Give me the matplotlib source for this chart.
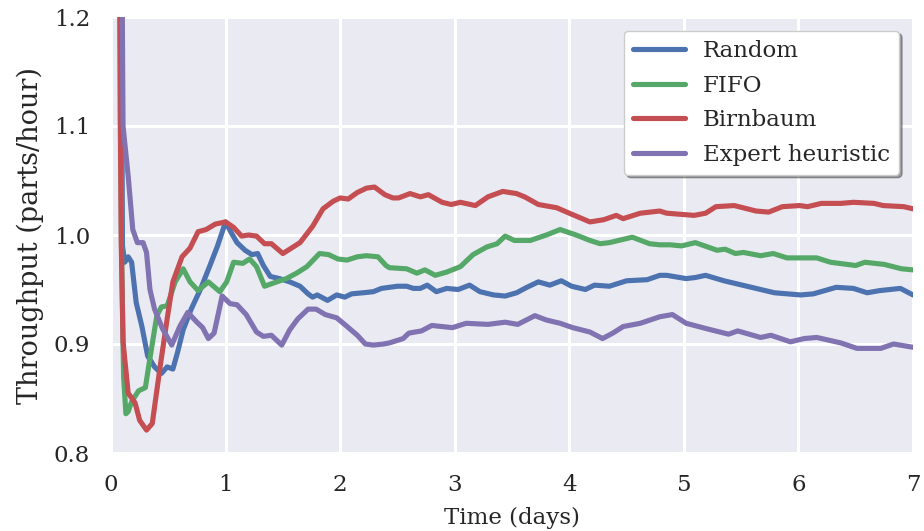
import numpy as np
import matplotlib
matplotlib.use("Agg")
import matplotlib.pyplot as plt
import seaborn as sns

# ---------------- data ----------------
random_x = [0.075, 0.10, 0.12, 0.15, 0.18, 0.22, 0.27, 0.32, 0.38, 0.44, 0.49, 0.54, 0.58, 0.63, 0.70,
            0.78, 0.86, 0.93, 1.00, 1.05, 1.10, 1.17, 1.23, 1.28, 1.33, 1.39, 1.47, 1.56, 1.65, 1.72,
            1.76, 1.80, 1.89, 1.97, 2.04, 2.10, 2.20, 2.29, 2.36, 2.43, 2.50, 2.58, 2.64, 2.70, 2.76,
            2.84, 2.93, 3.03, 3.13, 3.22, 3.34, 3.44, 3.54, 3.63, 3.73, 3.83, 3.93, 4.02, 4.14, 4.22,
            4.35, 4.50, 4.68, 4.79, 4.85, 5.02, 5.10, 5.19, 5.35, 5.55, 5.79, 6.02, 6.13, 6.33, 6.48,
            6.60, 6.71, 6.89, 7.00]
random_y = [1.60, 0.990, 0.975, 0.980, 0.975, 0.938, 0.916, 0.889, 0.879, 0.873, 0.879, 0.877, 0.892, 0.913, 0.932,
            0.950, 0.971, 0.990, 1.012, 1.002, 0.993, 0.986, 0.982, 0.983, 0.972, 0.962, 0.960, 0.957, 0.953, 0.946,
            0.943, 0.945, 0.940, 0.945, 0.943, 0.946, 0.947, 0.948, 0.951, 0.952, 0.953, 0.953, 0.951, 0.951, 0.954,
            0.948, 0.951, 0.950, 0.954, 0.948, 0.945, 0.944, 0.947, 0.952, 0.957, 0.954, 0.958, 0.953, 0.950, 0.954,
            0.953, 0.958, 0.959, 0.963, 0.963, 0.960, 0.961, 0.963, 0.958, 0.953, 0.947, 0.945, 0.946, 0.952, 0.951,
            0.947, 0.949, 0.951, 0.945]

fifo_x = [0.065, 0.09, 0.11, 0.13, 0.15, 0.18, 0.24, 0.30, 0.34, 0.40, 0.44, 0.49, 0.56, 0.63, 0.69,
          0.76, 0.85, 0.95, 1.01, 1.07, 1.15, 1.21, 1.27, 1.34, 1.42, 1.53, 1.62, 1.71, 1.82, 1.90,
          1.98, 2.06, 2.15, 2.23, 2.33, 2.40, 2.43, 2.58, 2.67, 2.74, 2.83, 2.93, 3.05, 3.16, 3.28,
          3.37, 3.44, 3.52, 3.66, 3.80, 3.92, 4.06, 4.18, 4.27, 4.35, 4.55, 4.70, 4.79, 4.88, 4.98,
          5.10, 5.29, 5.36, 5.45, 5.52, 5.67, 5.78, 5.90, 6.01, 6.16, 6.28, 6.50, 6.58, 6.75, 6.90, 7.00]
fifo_y = [1.60, 1.000, 0.870, 0.836, 0.838, 0.847, 0.857, 0.860, 0.887, 0.926, 0.934, 0.935, 0.957, 0.969, 0.957,
          0.949, 0.957, 0.948, 0.957, 0.975, 0.974, 0.978, 0.971, 0.953, 0.956, 0.960, 0.965, 0.971, 0.983, 0.982,
          0.978, 0.977, 0.980, 0.981, 0.980, 0.972, 0.970, 0.969, 0.965, 0.968, 0.963, 0.966, 0.971, 0.982, 0.989,
          0.992, 0.999, 0.995, 0.995, 1.000, 1.005, 1.000, 0.995, 0.992, 0.993, 0.998, 0.992, 0.991, 0.991, 0.990,
          0.993, 0.986, 0.987, 0.983, 0.984, 0.981, 0.983, 0.979, 0.979, 0.979, 0.975, 0.972, 0.975, 0.973, 0.969, 0.968]

birnbaum_x = [0.06, 0.08, 0.09, 0.105, 0.15, 0.21, 0.25, 0.31, 0.36, 0.43, 0.49, 0.54, 0.62, 0.69, 0.76,
              0.83, 0.91, 1.00, 1.07, 1.14, 1.20, 1.27, 1.34, 1.40, 1.50, 1.65, 1.76, 1.85, 1.94, 2.00,
              2.07, 2.15, 2.23, 2.30, 2.39, 2.46, 2.51, 2.61, 2.70, 2.77, 2.89, 2.97, 3.05, 3.18, 3.29,
              3.42, 3.54, 3.61, 3.73, 3.89, 4.00, 4.18, 4.30, 4.41, 4.47, 4.62, 4.79, 4.85, 5.09, 5.19,
              5.28, 5.44, 5.63, 5.74, 5.86, 6.01, 6.08, 6.20, 6.37, 6.48, 6.66, 6.74, 6.92, 7.00]
birnbaum_y = [1.60, 1.115, 0.990, 0.902, 0.855, 0.846, 0.830, 0.821, 0.827, 0.880, 0.923, 0.957, 0.980, 0.988, 1.003,
              1.005, 1.010, 1.012, 1.007, 0.999, 1.000, 0.999, 0.992, 0.992, 0.983, 0.993, 1.008, 1.024, 1.031, 1.034,
              1.033, 1.039, 1.043, 1.044, 1.037, 1.034, 1.034, 1.038, 1.035, 1.037, 1.030, 1.028, 1.030, 1.027, 1.035,
              1.040, 1.038, 1.035, 1.028, 1.025, 1.020, 1.012, 1.014, 1.018, 1.015, 1.020, 1.022, 1.020, 1.018, 1.020,
              1.026, 1.027, 1.022, 1.021, 1.026, 1.027, 1.026, 1.029, 1.029, 1.030, 1.029, 1.027, 1.026, 1.024]

expert_x = [0.075, 0.105, 0.15, 0.19, 0.23, 0.28, 0.31, 0.34, 0.38, 0.45, 0.53, 0.60, 0.67, 0.75, 0.80,
            0.85, 0.90, 0.97, 1.04, 1.10, 1.18, 1.27, 1.33, 1.40, 1.49, 1.56, 1.63, 1.72, 1.79, 1.87,
            1.97, 2.05, 2.15, 2.22, 2.29, 2.38, 2.43, 2.55, 2.60, 2.71, 2.80, 2.98, 3.10, 3.29, 3.44,
            3.55, 3.70, 3.80, 3.92, 4.03, 4.18, 4.29, 4.38, 4.47, 4.62, 4.79, 4.90, 5.02, 5.20, 5.39,
            5.47, 5.67, 5.76, 5.93, 6.05, 6.16, 6.37, 6.51, 6.72, 6.83, 7.00]
expert_y = [1.60, 1.100, 1.054, 1.005, 0.993, 0.993, 0.984, 0.950, 0.932, 0.914, 0.899, 0.916, 0.929, 0.920, 0.915,
            0.905, 0.910, 0.944, 0.937, 0.936, 0.927, 0.911, 0.907, 0.908, 0.899, 0.913, 0.923, 0.932, 0.932, 0.927,
            0.924, 0.917, 0.908, 0.900, 0.899, 0.900, 0.901, 0.905, 0.910, 0.912, 0.917, 0.915, 0.919, 0.918, 0.920,
            0.918, 0.926, 0.922, 0.919, 0.915, 0.911, 0.905, 0.910, 0.916, 0.919, 0.925, 0.927, 0.919, 0.914, 0.909,
            0.912, 0.906, 0.908, 0.902, 0.905, 0.906, 0.901, 0.896, 0.896, 0.900, 0.897]

series_labels = ["Random", "FIFO", "Birnbaum", "Expert heuristic"]
x_ticks = [0, 1, 2, 3, 4, 5, 6, 7]
y_ticks = [0.8, 0.9, 1.0, 1.1, 1.2]

# ---------------- style ----------------
sns.set_style("darkgrid")
plt.rcParams["font.family"] = ["DejaVu Serif"]
colors = ["#4C72B0", "#55A868", "#C44E52", "#8172B2"]

fig = plt.figure(figsize=(9.24, 5.31), dpi=100)
ax = fig.add_axes([111 / 924, 78 / 531, 802 / 924, 436 / 531])
ax.set_facecolor("#EAEAF2")

for xs, ys, lab, c in zip([random_x, fifo_x, birnbaum_x, expert_x],
                          [random_y, fifo_y, birnbaum_y, expert_y],
                          series_labels, colors):
    ax.plot(xs, ys, color=c, lw=3.7, label=lab, solid_capstyle="round",
            solid_joinstyle="round")

ax.set_xlim(0, 7)
ax.set_ylim(0.8, 1.2)
ax.set_xticks(x_ticks)
ax.set_yticks(y_ticks)
ax.set_yticklabels([f"{v:.1f}" for v in y_ticks])
ax.grid(True, color="white", lw=2.2)
for s in ax.spines.values():
    s.set_visible(False)
ax.tick_params(axis="both", length=0, labelsize=16.5, colors="#262626", pad=15)
ax.set_xlabel("Time (days)", fontsize=16.5, color="#262626", labelpad=8)
ax.set_ylabel("Throughput (parts/hour)", fontsize=19.5, color="#262626", labelpad=7)

leg = ax.legend(loc="upper right", fontsize=16.5, frameon=True, shadow=True, fancybox=True,
                facecolor="white", framealpha=1.0, borderaxespad=0.6, handlelength=2.25,
                labelspacing=0.55, handletextpad=0.8, borderpad=0.4)
leg.get_frame().set_edgecolor("#CCCCCC")
for h in leg.get_lines():
    h.set_solid_capstyle("round")

fig.savefig("out.png", dpi=100)
